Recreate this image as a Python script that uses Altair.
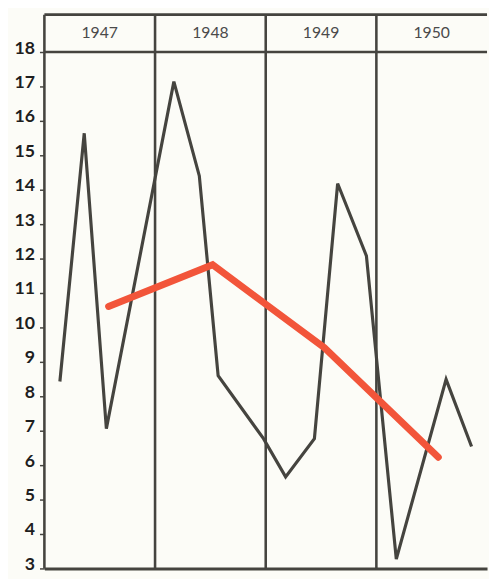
import altair as alt
import pandas as pd

# ---- data ----
years = [1947, 1948, 1949, 1950]
black_t = [1947.14, 1947.36, 1947.56, 1948.17, 1948.40, 1948.57, 1948.98,
           1949.18, 1949.44, 1949.65, 1949.91, 1950.18, 1950.63, 1950.86]
black_v = [8.43, 15.64, 7.06, 17.14, 14.4, 8.6, 6.77,
           5.66, 6.77, 14.18, 12.08, 3.27, 8.49, 6.54]
red_t = [1947.58, 1948.52, 1949.53, 1950.56]
red_v = [10.61, 11.82, 9.41, 6.23]
y_ticks = [3, 4, 5, 6, 7, 8, 9, 10, 11, 12, 13, 14, 15, 16, 17, 18]
header_line = [18]

# scale extents (header band sits above 18)
X_DOM = [1947, 1951]
Y_DOM = [3, 19.086]

INK = "#45443f"
RED = "#f2553a"

xs = alt.Scale(domain=X_DOM, nice=False, zero=False)
ys = alt.Scale(domain=Y_DOM, nice=False, zero=False)

black_df = pd.DataFrame({"t": black_t, "v": black_v})
red_df = pd.DataFrame({"t": red_t, "v": red_v})
year_df = pd.DataFrame({"year": years, "mid": [y + 0.5 for y in years],
                        "label": [str(y) for y in years]})
hl_df = pd.DataFrame({"h": header_line + [Y_DOM[1]]})

x_axis = alt.Axis(values=years, labels=False, ticks=False, grid=False,
                  domain=True, domainColor=INK, domainWidth=3, title=None)
y_axis = alt.Axis(values=y_ticks, grid=False, domain=False,
                  tickSize=5, tickColor=INK, tickWidth=1.5, labelFont="Lato",
                  labelFontSize=18, labelFontWeight="bold", labelColor="#1e1e1e",
                  labelPadding=5, labelOffset=-4, labelOverlap=False,
                  labelBound=False, labelFlush=False, title=None)

vlines = alt.Chart(year_df).mark_rule(color=INK, strokeWidth=2.6).encode(
    x=alt.X("year:Q", scale=xs, axis=x_axis)
)
hlines = alt.Chart(hl_df).mark_rule(color=INK, strokeWidth=2.6).encode(
    y=alt.Y("h:Q", scale=ys, axis=y_axis)
)
labels = alt.Chart(year_df).mark_text(
    font="Lato", fontSize=16, color="#4a4a4a", align="center", baseline="middle"
).encode(
    x=alt.X("mid:Q", scale=xs, axis=x_axis),
    y=alt.YDatum(18.54, scale=ys, axis=y_axis),
    text="label:N",
)
black_line = alt.Chart(black_df).mark_line(color=INK, strokeWidth=3.2).encode(
    x=alt.X("t:Q", scale=xs, axis=x_axis),
    y=alt.Y("v:Q", scale=ys, axis=y_axis),
)
red_line = alt.Chart(red_df).mark_line(color=RED, strokeWidth=7, strokeCap="round").encode(
    x=alt.X("t:Q", scale=xs, axis=x_axis),
    y=alt.Y("v:Q", scale=ys, axis=y_axis),
)

chart = alt.layer(vlines, hlines, labels, black_line, red_line).properties(
    width=450, height=563,
    padding={"left": 37, "top": 2, "right": 2, "bottom": 6},
    autosize=alt.AutoSizeParams(type="none"),
    background="#fcfcf7",
).configure_view(stroke=None)

chart.save("out.html", embed_options={"renderer": "svg", "actions": False})
